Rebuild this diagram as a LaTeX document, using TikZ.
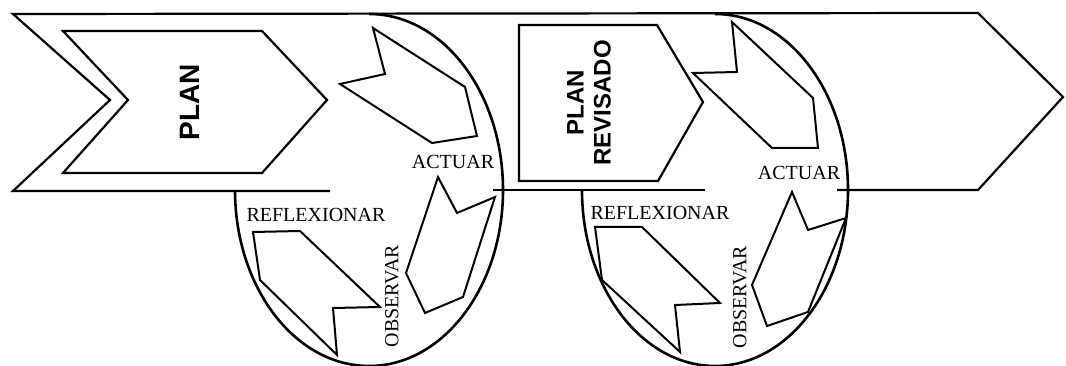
\documentclass[tikz,border=0pt]{standalone}
\usepackage{fontspec}
\setmainfont{Liberation Serif}
\newfontfamily\headfont{Liberation Sans}
\usetikzlibrary{positioning}
\tikzset{
	bandline/.style={line width=2.2pt, line join=miter},
	cyclering/.style={line width=2.6pt},
	cyclearrow/.style={line width=2pt, line join=miter},
	steplabel/.style={font=\fontsize{20}{20}\selectfont, inner sep=0pt},
	planlabel/.style={font=\headfont\bfseries\fontsize{28}{28}\selectfont, rotate=90, align=center, inner sep=0pt}
}

\begin{document}
\begin{tikzpicture}[x=1pt, y=-1pt]
			\useasboundingbox (0,0) rectangle (1066,366);
			% band
			\draw[bandline] (330,191) -- (13,191) -- (110,100) -- (13,14) -- (978,13) -- (1063,97) -- (978,190) -- (837,190);
			\draw[bandline] (493,190) -- (705,190);
			% plan boxes
			\draw[bandline] (63,31) -- (262,31) -- (327,100) -- (262,173) -- (63,173) -- (128,100) -- cycle;
			\node[planlabel] (plan) at (190,102) {PLAN};
			\draw[bandline] (519,25) -- (657,25) -- (703,102) -- (658,181) -- (519,181) -- cycle;
			\node[planlabel, font=\headfont\bfseries\fontsize{24}{27}\selectfont] (revisado) at (589,103) {PLAN\\REVISADO};
			% first cycle
			\draw[cyclering] (369,14) arc[start angle=90, end angle=-180, x radius=134pt, y radius=176pt];
			\draw[cyclearrow] (373,28) -- (385,74) -- (340,84) -- (432,143) -- (477,136) -- (465,87) -- cycle;
			\draw[cyclearrow] (438,177) -- (457,213) -- (495,197) -- (463,297) -- (425,313) -- (406,273) -- cycle;
			\draw[cyclearrow] (253,232) -- (300,231) -- (380,307) -- (333,308) -- (337,355) -- (260,280) -- cycle;
			\node[steplabel] (actuar1) at (453,162) {ACTUAR};
			\node[steplabel] (reflex1) at (316,215) {REFLEXIONAR};
			\node[steplabel, rotate=90] (observ1) at (392,296) {OBSERVAR};
			% second cycle
			\draw[cyclering] (715,14) arc[start angle=90, end angle=-180, x radius=133pt, y radius=176pt];
			\draw[cyclearrow] (732,22) -- (737,72) -- (693,73) -- (772,148) -- (818,148) -- (813,98) -- cycle;
			\draw[cyclearrow] (792,192) -- (808,230) -- (846,218) -- (808,312) -- (767,326) -- (752,285) -- cycle;
			\draw[cyclearrow] (595,227) -- (642,227) -- (720,303) -- (675,305) -- (680,352) -- (602,280) -- cycle;
			\node[steplabel] (actuar2) at (799,173) {ACTUAR};
			\node[steplabel] (reflex2) at (660,213) {REFLEXIONAR};
			\node[steplabel, rotate=90] (observ2) at (740,297) {OBSERVAR};
		\end{tikzpicture}
\end{document}
